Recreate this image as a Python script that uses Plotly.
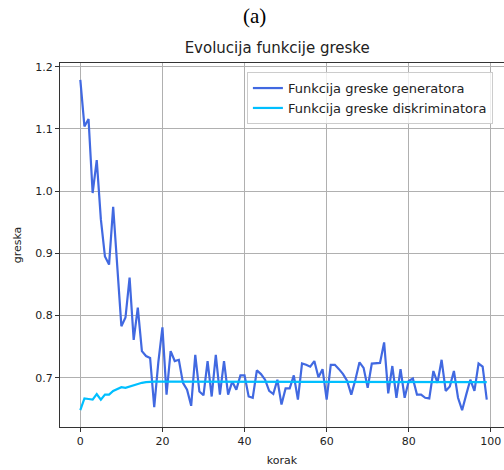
import plotly.graph_objects as go

steps = list(range(100))
generator_loss = [
    1.179, 1.104, 1.116, 0.997, 1.050, 0.955, 0.895, 0.882, 0.975, 0.880,
    0.783, 0.797, 0.861, 0.761, 0.813, 0.743, 0.735, 0.732, 0.653, 0.725,
    0.781, 0.673, 0.743, 0.727, 0.729, 0.692, 0.681, 0.655, 0.737, 0.678,
    0.672, 0.727, 0.670, 0.737, 0.673, 0.727, 0.673, 0.694, 0.681, 0.704,
    0.704, 0.670, 0.668, 0.712, 0.706, 0.697, 0.679, 0.674, 0.697, 0.657,
    0.683, 0.683, 0.704, 0.665, 0.723, 0.721, 0.718, 0.727, 0.701, 0.714,
    0.665, 0.721, 0.721, 0.714, 0.706, 0.695, 0.673, 0.697, 0.725, 0.716,
    0.684, 0.723, 0.723, 0.724, 0.757, 0.675, 0.719, 0.668, 0.714, 0.668,
    0.695, 0.699, 0.673, 0.673, 0.668, 0.667, 0.711, 0.692, 0.729, 0.679,
    0.686, 0.711, 0.668, 0.648, 0.673, 0.697, 0.679, 0.723, 0.718, 0.665,
]
discriminator_loss = [
    0.648, 0.667, 0.666, 0.665, 0.674, 0.665, 0.673, 0.673, 0.679, 0.682,
    0.685, 0.684, 0.686, 0.689, 0.690, 0.692, 0.693, 0.694, 0.694, 0.694,
    0.694, 0.693, 0.694, 0.694, 0.693, 0.694, 0.694, 0.693, 0.694, 0.694,
    0.693, 0.694, 0.694, 0.693, 0.694, 0.693, 0.693, 0.694, 0.693, 0.693,
    0.694, 0.693, 0.693, 0.693, 0.694, 0.693, 0.693, 0.693, 0.693, 0.693,
    0.693, 0.693, 0.693, 0.693, 0.693, 0.693, 0.693, 0.693, 0.693, 0.693,
    0.693, 0.693, 0.693, 0.693, 0.693, 0.693, 0.693, 0.693, 0.693, 0.693,
    0.693, 0.693, 0.693, 0.693, 0.693, 0.693, 0.693, 0.693, 0.693, 0.693,
    0.693, 0.693, 0.693, 0.693, 0.693, 0.693, 0.693, 0.693, 0.693, 0.693,
    0.693, 0.693, 0.693, 0.693, 0.693, 0.693, 0.693, 0.693, 0.693, 0.693,
]
series_names = ["Funkcija greske generatora", "Funkcija greske diskriminatora"]
x_ticks = [0, 20, 40, 60, 80, 100]
y_ticks = [0.7, 0.8, 0.9, 1.0, 1.1, 1.2]

font = "DejaVu Sans"
fig = go.Figure()
fig.add_trace(go.Scatter(x=steps, y=generator_loss, mode="lines", name=series_names[0],
                         line=dict(color="#4169E1", width=2.2)))
fig.add_trace(go.Scatter(x=steps, y=discriminator_loss, mode="lines", name=series_names[1],
                         line=dict(color="#00BFFF", width=2.2)))

axis_common = dict(showgrid=True, gridcolor="#b0b0b0", gridwidth=0.8,
                   showline=True, linecolor="#333333", linewidth=1,
                   ticks="outside", ticklen=4, tickcolor="#333333",
                   tickfont=dict(family=font, size=11, color="#222222"),
                   zeroline=False, automargin=False)
fig.update_xaxes(range=[-4.95, 103.2], tickvals=x_ticks, mirror=True,
                 title=dict(text="korak", font=dict(family=font, size=11, color="#222222"), standoff=9),
                 **axis_common)
fig.update_yaxes(range=[0.621, 1.206], tickvals=y_ticks, ticktext=["0.7", "0.8", "0.9", "1.0", "1.1", "1.2"],
                 title=dict(text="greska", font=dict(family=font, size=11, color="#222222"), standoff=11),
                 **axis_common)

fig.update_layout(
    width=504, height=470,
    margin=dict(l=60, r=0, t=63, b=43),
    paper_bgcolor="white", plot_bgcolor="white",
    title=dict(text="Evolucija funkcije greske", x=0.55, xanchor="center", y=1 - 48 / 470, yanchor="middle",
               font=dict(family=font, size=15, color="#222222")),
    legend=dict(x=0.975, y=0.975, xanchor="right", yanchor="top", itemwidth=30,
                bgcolor="rgba(255,255,255,0.8)", bordercolor="#cccccc", borderwidth=1,
                font=dict(family=font, size=13, color="#222222"), tracegroupgap=0),
    showlegend=True,
    annotations=[dict(text="(a)", xref="paper", yref="paper", x=(254 - 60) / 444, y=1 + (63 - 16) / 364,
                      xanchor="center", yanchor="middle", showarrow=False,
                      font=dict(family="Liberation Serif", size=21, color="black"))],
)
fig.write_html("out.html", config={"displayModeBar": False},
               post_script="document.body.style.margin='0';document.body.style.overflow='hidden';")
